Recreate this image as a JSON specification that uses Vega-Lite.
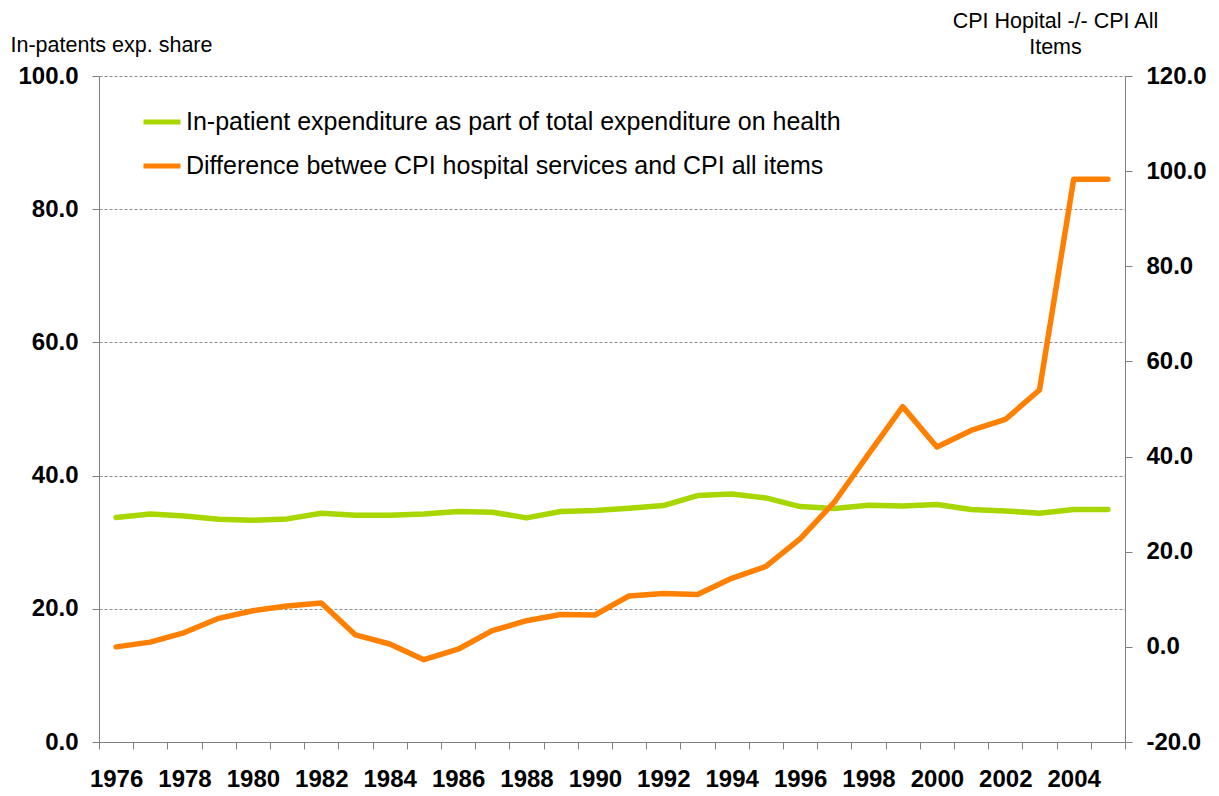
{
  "$schema": "https://vega.github.io/schema/vega-lite/v6.json",
  "autosize": {"type": "none"},
  "padding": {"left": 99, "top": 76, "right": 94, "bottom": 54},
  "width": 1026,
  "height": 666,
  "background": "white",
  "config": {
    "view": {"stroke": null},
    "font": "Liberation Sans",
    "axis": {"domainColor": "#808080", "tickColor": "#808080", "labelFont": "Liberation Sans", "titleFont": "Liberation Sans"}
  },
  "data": {
    "values": [
      {"year": "1976", "share": 33.7, "cpi": 0.0},
      {"year": "1977", "share": 34.25, "cpi": 1.0},
      {"year": "1978", "share": 33.95, "cpi": 3.0},
      {"year": "1979", "share": 33.45, "cpi": 6.0},
      {"year": "1980", "share": 33.3, "cpi": 7.6},
      {"year": "1981", "share": 33.5, "cpi": 8.6},
      {"year": "1982", "share": 34.35, "cpi": 9.2},
      {"year": "1983", "share": 34.05, "cpi": 2.5},
      {"year": "1984", "share": 34.05, "cpi": 0.6},
      {"year": "1985", "share": 34.25, "cpi": -2.7},
      {"year": "1986", "share": 34.6, "cpi": -0.5},
      {"year": "1987", "share": 34.5, "cpi": 3.4},
      {"year": "1988", "share": 33.65, "cpi": 5.5},
      {"year": "1989", "share": 34.6, "cpi": 6.8},
      {"year": "1990", "share": 34.75, "cpi": 6.7},
      {"year": "1991", "share": 35.1, "cpi": 10.7},
      {"year": "1992", "share": 35.5, "cpi": 11.2},
      {"year": "1993", "share": 37.0, "cpi": 11.0},
      {"year": "1994", "share": 37.25, "cpi": 14.4},
      {"year": "1995", "share": 36.65, "cpi": 16.9},
      {"year": "1996", "share": 35.35, "cpi": 22.7},
      {"year": "1997", "share": 35.05, "cpi": 30.4},
      {"year": "1998", "share": 35.55, "cpi": 40.5},
      {"year": "1999", "share": 35.45, "cpi": 50.5},
      {"year": "2000", "share": 35.65, "cpi": 42.0},
      {"year": "2001", "share": 34.9, "cpi": 45.5},
      {"year": "2002", "share": 34.7, "cpi": 47.8},
      {"year": "2003", "share": 34.35, "cpi": 54.0},
      {"year": "2004", "share": 34.9, "cpi": 98.3},
      {"year": "2005", "share": 34.9, "cpi": 98.3}
    ]
  },
  "encoding": {
    "x": {
      "field": "year",
      "type": "ordinal",
      "scale": {"type": "band", "paddingInner": 0, "paddingOuter": 0},
      "axis": {
        "title": null,
        "labelAngle": 0,
        "tickBand": "extent",
        "tickSize": 7,
        "labelPadding": 18,
        "labelFontSize": 24,
        "labelFontWeight": "bold",
        "labelColor": "black",
        "labelExpr": "toNumber(datum.value) % 2 == 0 ? datum.label : ''",
        "grid": false
      }
    }
  },
  "layer": [
    {
      "mark": {"type": "line", "strokeWidth": 5.5, "strokeCap": "round", "strokeJoin": "round"},
      "encoding": {
        "y": {
          "field": "share",
          "type": "quantitative",
          "scale": {"domain": [0, 100], "nice": false, "zero": false},
          "axis": {
            "title": "In-patents exp. share",
            "titleAngle": 0,
            "titleAlign": "left",
            "titleBaseline": "alphabetic",
            "titleX": -89,
            "titleY": -25,
            "titleFontSize": 21.5,
            "titleFontWeight": "normal",
            "titleColor": "black",
            "values": [0, 20, 40, 60, 80, 100],
            "format": ".1f",
            "labelFontSize": 24,
            "labelFontWeight": "bold",
            "labelColor": "black",
            "labelPadding": 14,
            "tickSize": 7,
            "grid": true,
            "gridColor": "#8c8c8c",
            "gridDash": [3, 2],
            "gridWidth": 1
          }
        },
        "color": {
          "datum": "In-patient expenditure as part of total expenditure on health",
          "type": "nominal",
          "scale": {
            "domain": ["In-patient expenditure as part of total expenditure on health", "Difference betwee CPI hospital services and CPI all items"],
            "range": ["#a8d600", "#ff8000"]
          },
          "legend": {
            "title": null,
            "orient": "none",
            "legendX": 42,
            "legendY": 25,
            "symbolType": "stroke",
            "symbolSize": 1369,
            "symbolStrokeWidth": 5,
            "labelFontSize": 25,
            "labelColor": "black",
            "labelFont": "Liberation Sans",
            "labelOffset": 3,
            "rowPadding": 10,
            "padding": 0,
            "labelLimit": 1000
          }
        }
      }
    },
    {
      "mark": {"type": "line", "strokeWidth": 5.5, "strokeCap": "round", "strokeJoin": "round"},
      "encoding": {
        "y": {
          "field": "cpi",
          "type": "quantitative",
          "scale": {"domain": [-20, 120], "nice": false, "zero": false},
          "axis": {
            "orient": "right",
            "title": ["CPI Hopital -/- CPI All", "Items"],
            "titleAngle": 0,
            "titleAlign": "center",
            "titleBaseline": "alphabetic",
            "titleX": -70,
            "titleY": -49,
            "titleLineHeight": 26,
            "titleFontSize": 21.5,
            "titleFontWeight": "normal",
            "titleColor": "black",
            "values": [-20, 0, 20, 40, 60, 80, 100, 120],
            "format": ".1f",
            "labelExpr": "replace(datum.label, '\u2212', '-')",
            "labelFontSize": 24,
            "labelFontWeight": "bold",
            "labelColor": "black",
            "labelPadding": 14,
            "tickSize": 7,
            "grid": false
          }
        },
        "color": {"datum": "Difference betwee CPI hospital services and CPI all items", "type": "nominal"}
      }
    }
  ],
  "resolve": {"scale": {"y": "independent"}}
}
